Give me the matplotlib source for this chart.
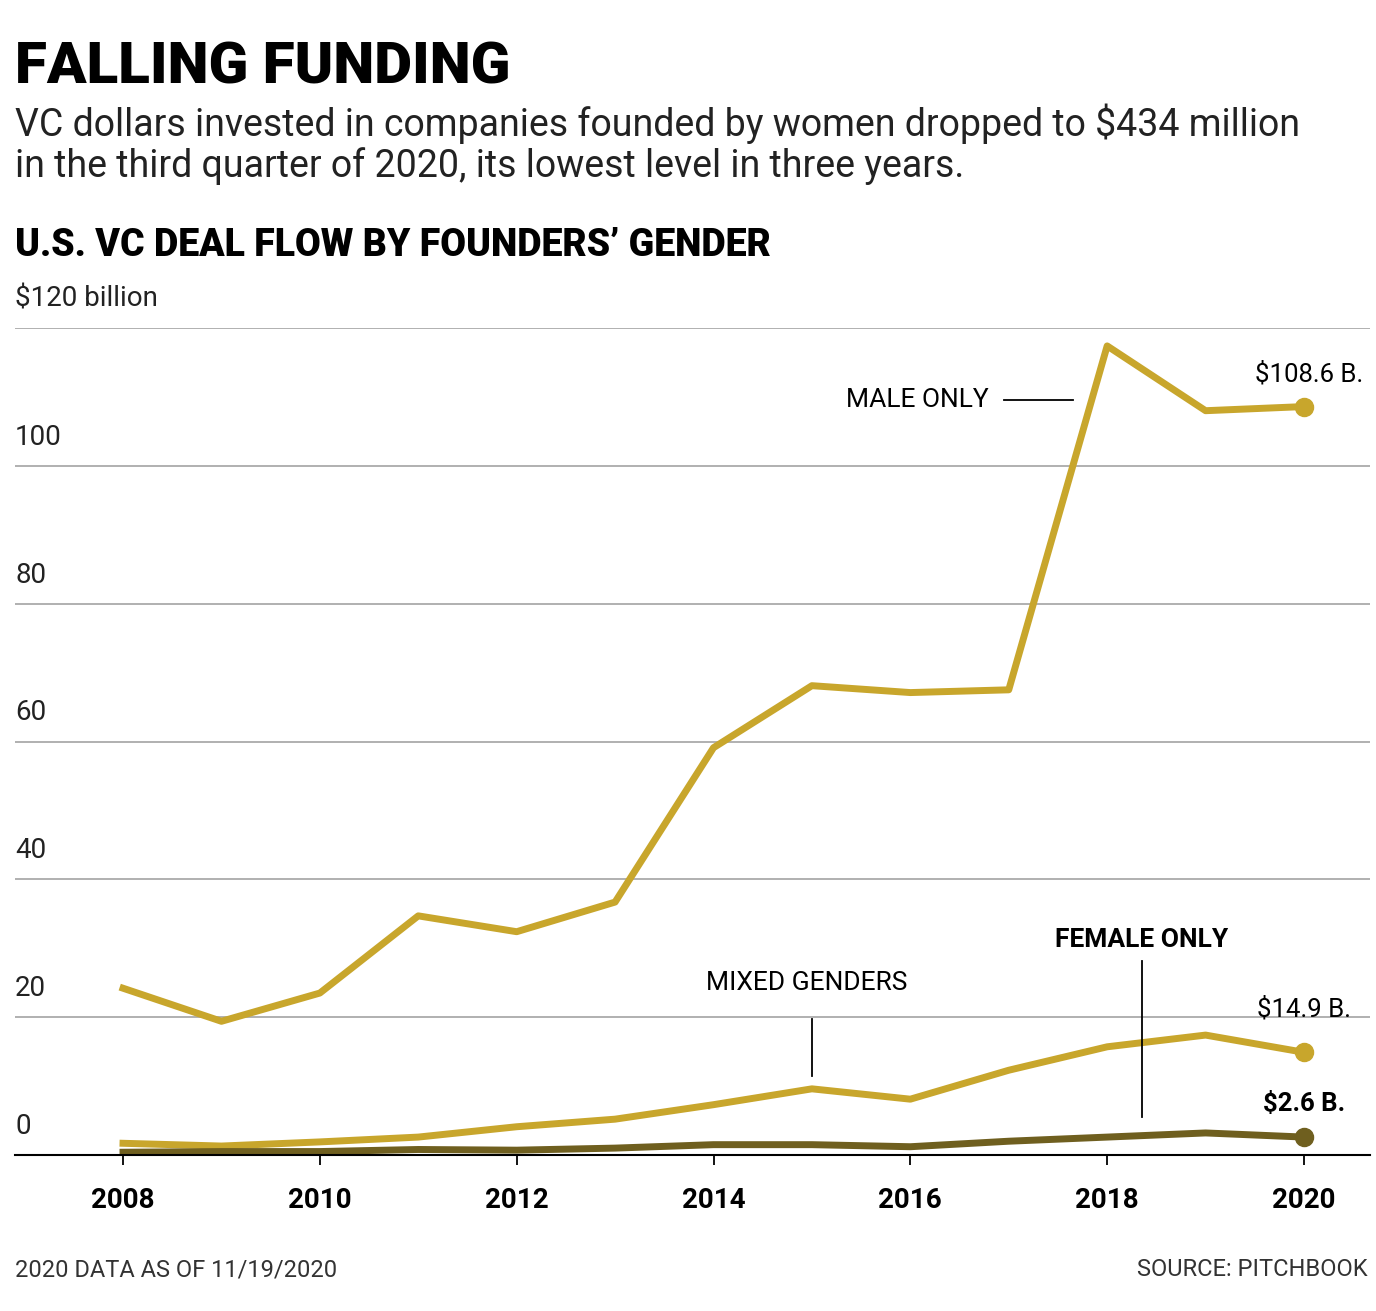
import matplotlib
matplotlib.use("Agg")
import matplotlib.pyplot as plt

years = list(range(2008, 2021))
male = [24.2, 19.4, 23.5, 34.7, 32.4, 36.7, 59.1, 68.1, 67.1, 67.5, 117.4, 108.0, 108.6]
mixed = [1.7, 1.3, 1.9, 2.6, 4.1, 5.2, 7.3, 9.6, 8.1, 12.3, 15.7, 17.4, 14.9]
female = [0.4, 0.5, 0.5, 0.8, 0.7, 1.0, 1.5, 1.5, 1.2, 2.0, 2.6, 3.2, 2.6]
yticks = [0, 20, 40, 60, 80, 100, 120]
xticks = [2008, 2010, 2012, 2014, 2016, 2018, 2020]

gold = "#C8A62C"
dark = "#6F5F1F"
plt.rcParams['font.family'] = ['Roboto', 'DejaVu Sans']

fig = plt.figure(figsize=(13.76, 13.11), dpi=100)
ax = fig.add_axes([15/1376, 1-1155/1311, 1355/1376, (1155-328)/1311])
ax.set_xlim(2008-108/98.4, 2020+66/98.4)
ax.set_ylim(0, 120)
for s in ['top', 'right', 'left']:
    ax.spines[s].set_visible(False)
ax.spines['bottom'].set_linewidth(1.5)
ax.set_yticks([])
for v in yticks[1:]:
    ax.axhline(v, color="#AAAAAA", lw=1.3, zorder=0)
for v in yticks:
    ax.text(ax.get_xlim()[0], v + 2.2, ("$120 billion" if v == 120 else str(v)),
            fontsize=20, va='bottom', ha='left', color='#222')
ax.set_xticks(xticks)
ax.set_xticklabels([str(x) for x in xticks], fontsize=20, fontweight='bold')
ax.tick_params(axis='x', length=7, width=1.3, pad=16)

ax.plot(years, male, color=gold, lw=5, clip_on=False, solid_joinstyle='round')
ax.plot(years, mixed, color=gold, lw=5, clip_on=False)
ax.plot(years, female, color=dark, lw=5, clip_on=False)
ax.plot([2020], [male[-1]], 'o', color=gold, ms=13, clip_on=False)
ax.plot([2020], [mixed[-1]], 'o', color=gold, ms=13, clip_on=False)
ax.plot([2020], [female[-1]], 'o', color=dark, ms=13, clip_on=False)

ax.text(2020.05, 111.5, "$108.6 B.", fontsize=18.5, ha='center', va='bottom')
ax.text(2020.0, 19.3, "$14.9 B.", fontsize=18.5, ha='center', va='bottom')
ax.text(2020.0, 5.7, "$2.6 B.", fontsize=18.5, ha='center', va='bottom', fontweight='bold')
ax.text(2016.8, 109.5, "MALE ONLY", fontsize=19, ha='right', va='center')
ax.plot([2016.95, 2017.65], [109.5, 109.5], color='k', lw=1.3)
ax.text(2014.95, 23.2, "MIXED GENDERS", fontsize=19, ha='center', va='bottom')
ax.plot([2015.0, 2015.0], [11.5, 19.8], color='k', lw=1.3)
ax.text(2018.35, 29.5, "FEMALE ONLY", fontsize=19, ha='center', va='bottom', fontweight='bold')
ax.plot([2018.35, 2018.35], [5.5, 28.2], color='k', lw=1.3)

fig.text(15/1376, 1-84/1311, "FALLING FUNDING", fontsize=42, fontweight='black', va='baseline')
fig.text(15/1376, 1-136/1311, "VC dollars invested in companies founded by women dropped to $434 million",
         fontsize=27, va='baseline', color='#222')
fig.text(15/1376, 1-177/1311, "in the third quarter of 2020, its lowest level in three years.",
         fontsize=27, va='baseline', color='#222')
fig.text(15/1376, 1-256/1311, "U.S. VC DEAL FLOW BY FOUNDERS\u2019 GENDER", fontsize=27, fontweight='black', va='baseline')
fig.text(15/1376, 1-1276/1311, "2020 DATA AS OF 11/19/2020", fontsize=17, va='baseline', color='#333')
fig.text(1368/1376, 1-1276/1311, "SOURCE: PITCHBOOK", fontsize=17, va='baseline', ha='right', color='#333')

fig.savefig("out.png", dpi=100)
